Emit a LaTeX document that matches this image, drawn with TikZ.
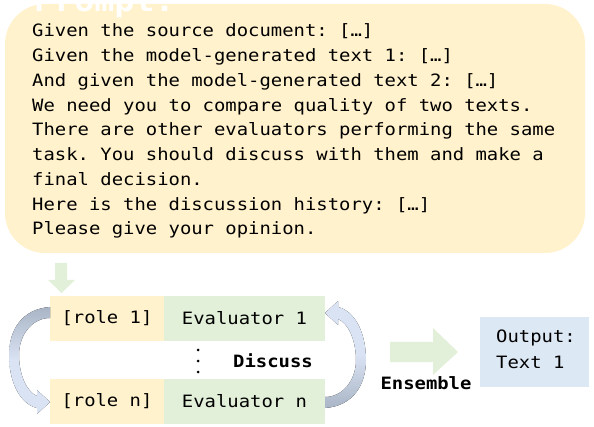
\documentclass[tikz,border=0pt]{standalone}
\usepackage{fontspec}
\setmonofont[FakeStretch=1.111]{DejaVu Sans Mono}
\definecolor{promptyellow}{HTML}{FFF2CC}
\definecolor{evalgreen}{HTML}{E2F0D9}
\definecolor{outblue}{HTML}{DDE8F5}
\definecolor{arrowdark}{HTML}{A9B5C6}
\definecolor{arrowlight}{HTML}{DAE3F3}
\begin{document}
\begin{tikzpicture}[x=1pt,y=-1pt,
  mono/.style={font=\ttfamily\fontsize{17}{20}\selectfont},
  txt/.style={mono, inner sep=0pt, anchor=base west},
  boldtxt/.style={font=\ttfamily\bfseries\fontsize{17}{20}\selectfont, inner sep=0pt, anchor=base},
  cell/.style={mono, minimum height=45pt, inner sep=0pt, outer sep=0pt},
  rolebox/.style={cell, fill=promptyellow, minimum width=114pt},
  evalbox/.style={cell, fill=evalgreen, minimum width=161pt},
  blockarrow/.style={fill=evalgreen, draw=none},
  curvearrow/.style={draw=none, top color=arrowdark, bottom color=arrowlight, middle color=arrowlight}
]
\useasboundingbox (0,0) rectangle (594,427);

% prompt box
\node[fill=promptyellow, rounded corners=40pt, minimum width=580pt, minimum height=249pt,
      inner sep=0pt, outer sep=0pt] (promptbox) at (295,128.5) {};
\begin{scope}
\clip (0,0) rectangle (594,427);
\node[font=\ttfamily\bfseries\fontsize{30}{30}\selectfont, text=white, inner sep=0pt, anchor=base west]
  (prompttitle) at (34,12) {Prompt:};
\end{scope}

\node[txt] (l1) at (32,37.00)  {Given the source document: […]};
\node[txt] (l2) at (32,61.75)  {Given the model-generated text 1: […]};
\node[txt] (l3) at (32,86.50)  {And given the model-generated text 2: […]};
\node[txt] (l4) at (32,111.25) {We need you to compare quality of two texts.};
\node[txt] (l5) at (32,136.00) {There are other evaluators performing the same};
\node[txt] (l6) at (32,160.75) {task. You should discuss with them and make a};
\node[txt] (l7) at (32,185.50) {final decision.};
\node[txt] (l8) at (32,210.25) {Here is the discussion history: […]};
\node[txt] (l9) at (32,235.00) {Please give your opinion.};

% green down arrow
\fill[blockarrow] (55,263) -- (67,263) -- (67,280) -- (75,280) -- (61.5,293) -- (48,280) -- (55,280) -- cycle;

% evaluator rows
\node[rolebox] (r1) at (107,318.5) {[role 1]};
\node[evalbox] (e1) at (244.5,318.5) {Evaluator 1};
\node[rolebox] (rn) at (107,401.5) {[role n]};
\node[evalbox] (en) at (244.5,401.5) {Evaluator n};

% vertical dots
\fill (198,350) circle (1.5);
\fill (198,361) circle (1.5);
\fill (198,372) circle (1.5);

\node[boldtxt] (discuss) at (273,367) {Discuss};

% curved arrows
\fill[curvearrow] (50,307) .. controls (22,309) and (9,330) .. (9,355)
  .. controls (9,382) and (20,404) .. (37,408) -- (37,414) -- (50,402) -- (37,390) -- (37,396)
  .. controls (27,392) and (19,375) .. (19,355)
  .. controls (19,335) and (32,318) .. (50,318) -- cycle;
\fill[draw=none, top color=arrowlight, bottom color=arrowdark, middle color=arrowlight]
  (325,408) .. controls (353,406) and (366,385) .. (366,360)
  .. controls (366,333) and (355,311) .. (338,307) -- (338,301) -- (325,313) -- (338,325) -- (338,319)
  .. controls (348,323) and (356,340) .. (356,360)
  .. controls (356,380) and (343,397) .. (325,397) -- cycle;

% ensemble arrow
\fill[blockarrow] (390,342) -- (433,342) -- (433,328) -- (458,352) -- (433,375) -- (433,362) -- (390,362) -- cycle;
\node[boldtxt] (ensemble) at (426,389) {Ensemble};

% output
\node[fill=outblue, minimum width=109pt, minimum height=70pt, inner sep=0pt, outer sep=0pt] (out) at (534.5,352) {};
\node[txt] (out1) at (496,342) {Output:};
\node[txt] (out2) at (496,368) {Text 1};
\end{tikzpicture}
\end{document}
